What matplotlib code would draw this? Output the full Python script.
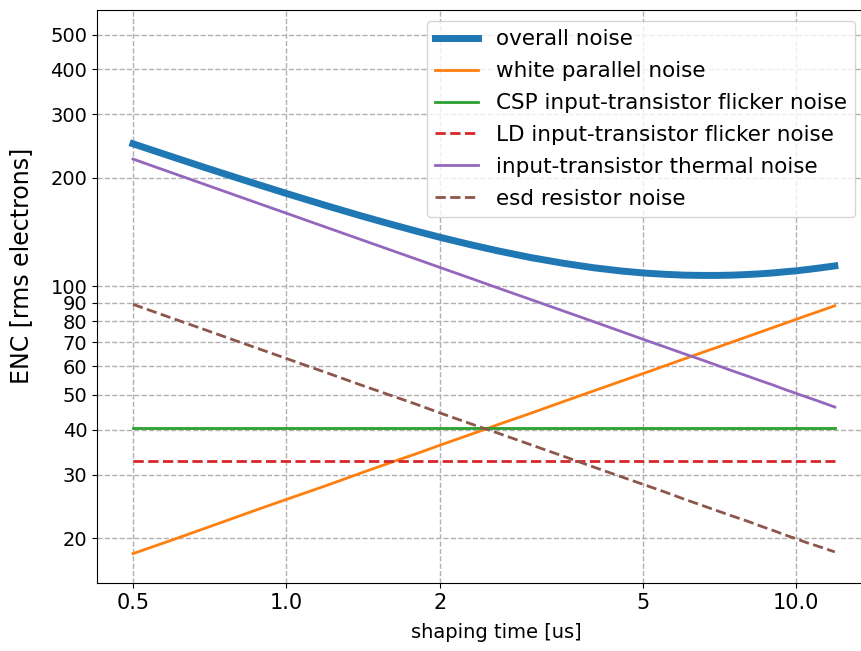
import matplotlib
matplotlib.use("Agg")
import matplotlib.pyplot as plt
from matplotlib.ticker import NullLocator

# shaping time samples [us]
shaping_time = [0.5, 0.6, 0.7, 0.8, 0.9, 1.0, 1.2, 1.4, 1.6, 1.8, 2.0, 2.3, 2.6, 3.0, 3.5, 4.0,
                4.5, 5.0, 5.5, 6.0, 6.5, 7.0, 7.5, 8.0, 8.5, 9.0, 9.5, 10.0, 10.5, 11.0, 11.9]

# noise contributions [rms electrons]
white_parallel = [18.1, 19.8, 21.4, 22.9, 24.3, 25.6, 28.0, 30.3, 32.4, 34.3, 36.2, 38.8, 41.3, 44.3, 47.9, 51.2,
                  54.3, 57.2, 60.0, 62.7, 65.3, 67.7, 70.1, 72.4, 74.6, 76.8, 78.9, 81.0, 83.0, 84.9, 88.3]
csp_flicker = [40.4] * len(shaping_time)
ld_flicker = [32.7] * len(shaping_time)
thermal = [225.6, 205.9, 190.6, 178.3, 168.1, 159.5, 145.6, 134.8, 126.1, 118.9, 112.8, 105.2, 98.9, 92.1, 85.3, 79.8,
           75.2, 71.3, 68.0, 65.1, 62.6, 60.3, 58.2, 56.4, 54.7, 53.2, 51.7, 50.4, 49.2, 48.1, 46.2]
esd_resistor = [89.1, 81.3, 75.3, 70.4, 66.4, 63.0, 57.5, 53.2, 49.8, 47.0, 44.5, 41.5, 39.1, 36.4, 33.7, 31.5,
                29.7, 28.2, 26.9, 25.7, 24.7, 23.8, 23.0, 22.3, 21.6, 21.0, 20.4, 19.9, 19.4, 19.0, 18.3]
overall = [248.7, 228.3, 212.5, 200.0, 189.7, 181.0, 167.3, 156.9, 148.8, 142.2, 136.8, 130.4, 125.4, 120.3, 115.8, 112.6,
           110.4, 108.9, 108.0, 107.4, 107.2, 107.2, 107.4, 107.8, 108.3, 108.9, 109.7, 110.4, 111.3, 112.2, 113.9]

x_ticks = [0.5, 1.0, 2, 5, 10.0]
x_tick_labels = ["0.5", "1.0", "2", "5", "10.0"]
y_ticks = [20, 30, 40, 50, 60, 70, 80, 90, 100, 200, 300, 400, 500]

fig = plt.figure(figsize=(8.62, 6.51), dpi=100)
ax = fig.add_axes([97 / 862, 1 - 583 / 651, 769 / 862, 573 / 651])

ax.plot(shaping_time, overall, color="#1f77b4", lw=5, label="overall noise")
ax.plot(shaping_time, white_parallel, color="#ff7f0e", lw=2, label="white parallel noise")
ax.plot(shaping_time, csp_flicker, color="#2ca02c", lw=2, label="CSP input-transistor flicker noise")
ax.plot(shaping_time, ld_flicker, color="#d62728", lw=2, ls="--", label="LD input-transistor flicker noise")
ax.plot(shaping_time, thermal, color="#9467bd", lw=2, label="input-transistor thermal noise")
ax.plot(shaping_time, esd_resistor, color="#8c564b", lw=2, ls="--", label="esd resistor noise")

ax.set_xscale("log")
ax.set_yscale("log")
ax.set_xlim(0.425, 13.7)
ax.set_ylim(15.0, 585)

ax.set_xticks(x_ticks)
ax.set_xticklabels(x_tick_labels, fontsize=15)
ax.xaxis.set_minor_locator(NullLocator())
ax.set_yticks(y_ticks)
ax.set_yticklabels([str(v) for v in y_ticks], fontsize=14)
ax.yaxis.set_minor_locator(NullLocator())

ax.grid(True, which="major", ls="--", color="#b0b0b0", lw=1)

ax.set_xlabel("shaping time [us]", fontsize=14)
ax.xaxis.set_label_coords(0.519, -0.070)
ax.set_ylabel("ENC [rms electrons]", fontsize=17)
ax.yaxis.set_label_coords(-0.083, 0.553)

ax.legend(loc="upper right", fontsize=15.5, labelspacing=0.55)

fig.savefig("out.png", dpi=100)
